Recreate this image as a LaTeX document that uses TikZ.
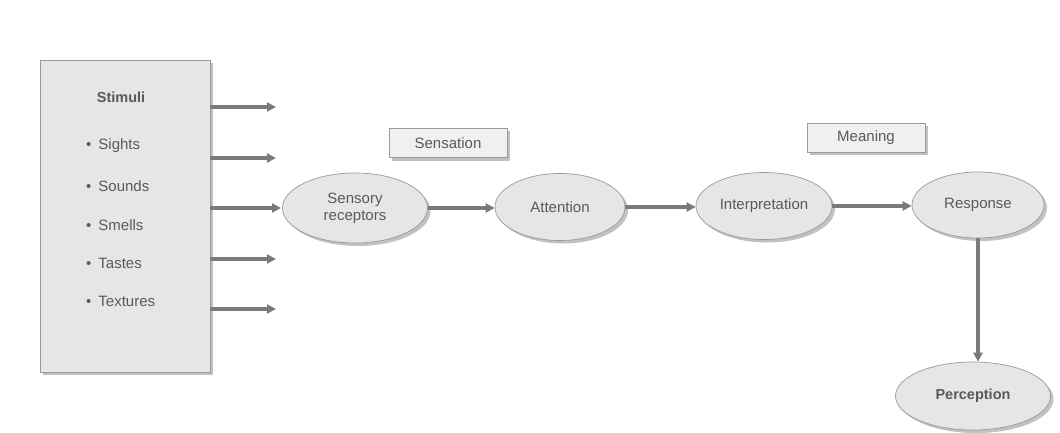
\documentclass[tikz,border=0pt]{standalone}
\usepackage{fontspec}
\setmainfont{Liberation Sans}
\usetikzlibrary{arrows.meta,shapes.geometric,shadows}
\definecolor{boxfill}{HTML}{E6E6E6}
\definecolor{boxline}{HTML}{9A9A9A}
\definecolor{arrowcol}{HTML}{7A7A7A}
\definecolor{txt}{HTML}{5A5A5A}
\tikzset{
  shade/.style={drop shadow={shadow xshift=3pt,shadow yshift=-3pt,fill=black!30,opacity=0.8}},
  stimbox/.style={draw=boxline,fill=boxfill,line width=0.8pt,shade,minimum width=170pt,minimum height=312pt,inner sep=0pt},
  labelbox/.style={draw=boxline,fill=boxfill!60,line width=0.7pt,shade,minimum width=118pt,minimum height=29pt,inner sep=0pt,font=\fontsize{15}{17}\selectfont,text=txt},
  oval/.style={ellipse,draw=boxline,fill=boxfill,line width=0.7pt,shade,inner sep=0pt,font=\fontsize{15}{17}\selectfont,text=txt,align=center},
  flow/.style={draw=arrowcol,line width=3.5pt,-{Triangle[length=9pt,width=9pt]}},
  item/.style={anchor=west,font=\fontsize{15}{17}\selectfont,text=txt,inner sep=0pt}
}
\begin{document}
\begin{tikzpicture}[x=1pt,y=-1pt]
\useasboundingbox (0,0) rectangle (1060,433);
\node[stimbox] (stim) at (125,216) {};
\node[font=\bfseries\fontsize{14.5}{17}\selectfont,text=txt] (stitle) at (121,97) {Stimuli};
\node[item] (s1) at (86,146) {\textbullet\hspace{7pt}Sights};
\node[item] (s2) at (86,186) {\textbullet\hspace{7pt}Sounds};
\node[item] (s3) at (86,225) {\textbullet\hspace{7pt}Smells};
\node[item] (s4) at (86,263) {\textbullet\hspace{7pt}Tastes};
\node[item] (s5) at (86,301) {\textbullet\hspace{7pt}Textures};
\coordinate (e1) at (276,107);
\coordinate (e2) at (276,158);
\coordinate (e3) at (281,208);
\coordinate (e4) at (276,259);
\coordinate (e5) at (276,309);
\draw[flow] (stim.east |- e1) -- (e1);
\draw[flow] (stim.east |- e2) -- (e2);
\draw[flow] (stim.east |- e3) -- (e3);
\draw[flow] (stim.east |- e4) -- (e4);
\draw[flow] (stim.east |- e5) -- (e5);
\node[labelbox] (sens) at (448,143) {Sensation};
\node[labelbox] (mean) at (866,138) {Meaning};
\node[oval,minimum width=145pt,minimum height=70pt] (rec) at (355,208) {Sensory\\receptors};
\node[oval,minimum width=130pt,minimum height=67pt] (att) at (560,207) {Attention};
\node[oval,minimum width=136pt,minimum height=67pt] (int) at (764,206) {Interpretation};
\node[oval,minimum width=132pt,minimum height=66pt] (res) at (978,205) {Response};
\node[oval,minimum width=155pt,minimum height=68pt,font=\bfseries\fontsize{14.5}{17}\selectfont] (per) at (973,396) {Perception};
\draw[flow] (rec.east) -- (rec.east -| att.west);
\draw[flow] (att.east) -- (att.east -| int.west);
\draw[flow] (int.east) -- (int.east -| res.west);
\draw[flow] (res.south) -- (res.south |- per.north);
\end{tikzpicture}
\end{document}
